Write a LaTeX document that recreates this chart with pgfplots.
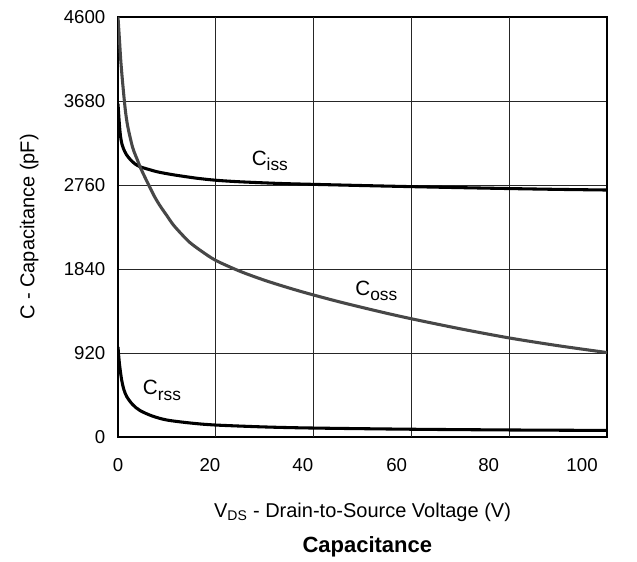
\documentclass[border=0pt]{standalone}
\usepackage{fontspec}
\setmainfont{Liberation Sans}
\usepackage{pgfplots}
\pgfplotsset{compat=1.18}
\begin{document}
\begin{tikzpicture}
\begin{axis}[
  scale only axis,
  width=366.75pt, height=315pt,
  xmin=0, xmax=100, ymin=0, ymax=4600,
  xtick={0,18.8,37.8,57,75.8,94.9},
  xticklabels={0,20,40,60,80,100},
  ytick={0,920,1840,2760,3680,4600},
  xmajorgrids=false, ymajorgrids=true,
  extra x ticks={20,40,60,80},
  extra x tick labels={},
  extra x tick style={grid=major},
  grid style={black!85, line width=0.6pt},
  axis line style={black, line width=1.6pt},
  tick style={draw=none},
  /pgf/number format/assume math mode=true,
  /pgf/number format/set thousands separator={},
  ticklabel style={font=\fontsize{14}{16}\selectfont},
  xticklabel style={yshift=-12.5pt},
  yticklabel style={xshift=-6pt},
  xlabel={V\textsubscript{DS} - Drain-to-Source Voltage (V)},
  ylabel={C - Capacitance (pF)},
  label style={font=\fontsize{15}{17}\selectfont},
  xlabel style={yshift=-16.5pt},
  ylabel style={yshift=12pt},
  clip=true,
]
\addplot[black, line width=2.3pt, smooth] coordinates {
(0,3650) (0.25,3450) (0.5,3300) (0.8,3210) (1.1,3160) (1.7,3095) (2.5,3040) (3.5,2990) (4.5,2960) (6,2935) (8,2905) (10,2884) (12,2866) (16,2835) (20,2812) (25,2795) (33,2777) (40,2767) (50,2754) (60,2742) (70,2731) (80,2721) (90,2712) (100,2705)};
\addplot[black!72, line width=2.3pt, smooth] coordinates {
(0,4600) (0.3,4350) (0.6,4100) (1,3850) (1.5,3580) (2,3400) (3,3170) (4,3030) (4.5,2960) (5.5,2846) (6.5,2736) (7.5,2630) (8.6,2532) (10,2424) (11.3,2324) (13,2222) (14.7,2130) (17,2038) (20,1934) (25,1814) (30.4,1709) (37.2,1597) (45,1484) (53.6,1372) (60,1295) (70,1185) (80,1085) (90,1000) (100,925)};
\addplot[black, line width=2.3pt, smooth] coordinates {
(0,985) (0.3,800) (0.75,624) (1.2,520) (1.8,441) (3,355) (4.5,290) (7,230) (10,186) (15,152) (20,131) (30,110) (40,98) (60,85) (80,77) (100,72)};
\node[anchor=base west, inner sep=0pt, font=\fontsize{15.5}{17}\selectfont] at (axis cs:27.3,2978) {C\raisebox{-4pt}{\fontsize{13}{14}\selectfont iss}};
\node[anchor=base west, inner sep=0pt, font=\fontsize{15.5}{17}\selectfont] at (axis cs:48.5,1555) {C\raisebox{-4pt}{\fontsize{13}{14}\selectfont oss}};
\node[anchor=base west, inner sep=0pt, font=\fontsize{15.5}{17}\selectfont] at (axis cs:5.05,460) {C\raisebox{-4pt}{\fontsize{13}{14}\selectfont rss}};
\coordinate (sw) at (rel axis cs:0,0);
\coordinate (ne) at (rel axis cs:1,1);
\end{axis}
\path (sw) ++(187pt,-82.5pt) node[font=\bfseries\fontsize{16.5}{19}\selectfont] {Capacitance};
\pgfresetboundingbox
\path ([shift={(-88.5pt,-93.75pt)}]sw) rectangle ([shift={(22.5pt,12.75pt)}]ne);
\end{tikzpicture}
\end{document}
